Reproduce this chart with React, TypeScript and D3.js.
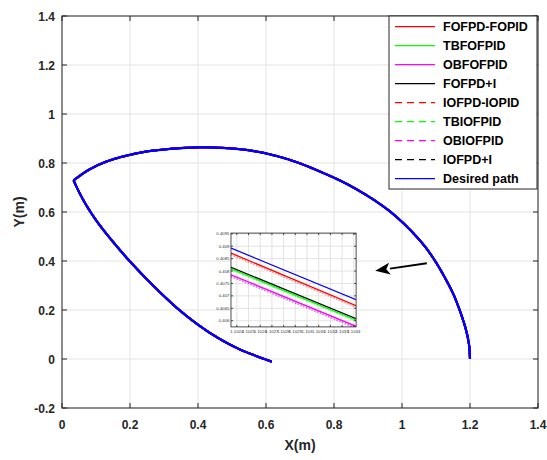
import React from "react";
import * as d3 from "d3";

const W = 547;
const H = 460;

// Main trajectory (all controllers track it, indistinguishable at this scale)
const arcX = [1.2, 1.197, 1.188, 1.172, 1.151, 1.125, 1.102, 1.07, 1.043, 1.005, 0.965, 0.92, 0.867, 0.82, 0.769, 0.695, 0.63, 0.563, 0.48, 0.41, 0.32, 0.229, 0.131, 0.08, 0.034];
const arcY = [0.0, 0.06, 0.12, 0.19, 0.265, 0.335, 0.39, 0.455, 0.499, 0.553, 0.602, 0.647, 0.692, 0.727, 0.759, 0.801, 0.829, 0.849, 0.861, 0.864, 0.858, 0.842, 0.806, 0.773, 0.729];
const retX = [0.034, 0.05, 0.07, 0.1, 0.14, 0.2, 0.27, 0.34, 0.4, 0.46, 0.52, 0.57, 0.617];
const retY = [0.729, 0.682, 0.631, 0.567, 0.495, 0.398, 0.297, 0.206, 0.14, 0.085, 0.041, 0.013, -0.011];

const xTicks = [0, 0.2, 0.4, 0.6, 0.8, 1, 1.2, 1.4];
const yTicks = [-0.2, 0, 0.2, 0.4, 0.6, 0.8, 1, 1.2, 1.4];

const seriesNames = ["FOFPD-FOPID", "TBFOFPID", "OBFOFPID", "FOFPD+I", "IOFPD-IOPID", "TBIOFPID", "OBIOFPID", "IOFPD+I", "Desired path"];
const seriesColors = ["#ff0000", "#00ff00", "#ff00ff", "#000000", "#ff0000", "#00ff00", "#ff00ff", "#000000", "#0000ff"];
const seriesDashed = [false, false, false, false, true, true, true, true, false];

// Inset (zoomed) data
const insetX = [1.10235, 1.10342];
const insetXTicks = [1.1024, 1.1025, 1.1026, 1.1027, 1.1028, 1.1029, 1.103, 1.1031, 1.1032, 1.1033, 1.1034];
const insetXLabels = ["1.1024", "1.1025", "1.1026", "1.1027", "1.1028", "1.1029", "1.103", "1.1031", "1.1032", "1.1033", "1.1034"];
const insetYTicks = [0.406, 0.4065, 0.407, 0.4075, 0.408, 0.4085, 0.409, 0.4095];
const insetYLabels = ["0.406", "0.4065", "0.407", "0.4075", "0.408", "0.4085", "0.409", "0.4095"];
const insetYDomain = [0.40575, 0.40953];
// y at the two ends for each series (order: same as seriesNames)
const insetYStart = [0.408724, 0.40809, 0.407851, 0.408148, 0.40866, 0.40805, 0.40779, 0.40778, 0.408925];
const insetYEnd = [0.406604, 0.40602, 0.405775, 0.406081, 0.40654, 0.40598, 0.40571, 0.40570, 0.406845];
// Inset placement in main-axis coordinates
const insetBoxX = [0.497, 0.865];
const insetBoxY = [0.131, 0.514];

// Arrow annotation (main-axis coordinates)
const arrowFrom = [1.073, 0.391];
const arrowTo = [0.921, 0.36];

export default function App() {
  const left = 62, right = 538, top = 16, bottom = 408;
  const x = d3.scaleLinear().domain([0, 1.4]).range([left, right]);
  const y = d3.scaleLinear().domain([-0.2, 1.4]).range([bottom, top]);

  const arcPts: [number, number][] = arcX.map((v, i) => [v, arcY[i]]);
  const retPts: [number, number][] = retX.map((v, i) => [v, retY[i]]);
  const line = d3.line<[number, number]>().x(d => x(d[0])).y(d => y(d[1])).curve(d3.curveCatmullRom.alpha(0.5));
  const arcD = line(arcPts) || "";
  const retD = line(retPts) || "";

  // inset scales
  const ix0 = x(insetBoxX[0]), ix1 = x(insetBoxX[1]);
  const iy0 = y(insetBoxY[1]), iy1 = y(insetBoxY[0]);
  const ix = d3.scaleLinear().domain(insetX).range([ix0, ix1]);
  const iy = d3.scaleLinear().domain(insetYDomain).range([iy1, iy0]);

  // arrow
  const ax1 = x(arrowFrom[0]), ay1 = y(arrowFrom[1]);
  const ax2 = x(arrowTo[0]), ay2 = y(arrowTo[1]);
  const ang = Math.atan2(ay2 - ay1, ax2 - ax1);
  const hl = 15, hw = 6;
  const bx = ax2 - hl * Math.cos(ang), by = ay2 - hl * Math.sin(ang);
  const px = -Math.sin(ang), py = Math.cos(ang);
  const head = `M${ax2},${ay2}L${bx + hw * px},${by + hw * py}L${bx + hl * 0.25 * Math.cos(ang)},${by + hl * 0.25 * Math.sin(ang)}L${bx - hw * px},${by - hw * py}Z`;

  const font = "'Liberation Sans', Arial, Helvetica, sans-serif";
  const drawOrder = [3, 7, 1, 5, 2, 6, 0, 4, 8];

  // legend
  const lgX = 389, lgY = 16, lgW = 148, lgH = 173;
  const rowH = 19.0;

  return (
    <svg width={W} height={H} style={{ position: "absolute", left: 0, top: 0, background: "#fff" }} fontFamily={font}>
      <rect x={0} y={0} width={W} height={H} fill="#fff" />
      {/* grid */}
      {xTicks.map((t, i) => (
        <line key={"gx" + i} x1={x(t)} x2={x(t)} y1={top} y2={bottom} stroke="#e3e3e3" strokeWidth={1} />
      ))}
      {yTicks.map((t, i) => (
        <line key={"gy" + i} x1={left} x2={right} y1={y(t)} y2={y(t)} stroke="#e3e3e3" strokeWidth={1} />
      ))}

      {/* main paths */}
      {drawOrder.map(k => (
        <g key={"s" + k} fill="none" stroke={seriesColors[k]} strokeWidth={2} strokeDasharray={seriesDashed[k] ? "6,4" : undefined}>
          <path d={arcD} />
          <path d={retD} />
        </g>
      ))}
      <g fill="none" stroke="#0000ff" strokeWidth={2.3}>
        <path d={arcD} />
        <path d={retD} />
      </g>

      {/* inset */}
      <g>
        <rect x={ix0} y={iy0} width={ix1 - ix0} height={iy1 - iy0} fill="#fff" />
        {insetXTicks.map((t, i) => (
          <line key={"igx" + i} x1={ix(t)} x2={ix(t)} y1={iy0} y2={iy1} stroke="#dcdcdc" strokeWidth={0.8} />
        ))}
        {insetYTicks.map((t, i) => (
          <line key={"igy" + i} x1={ix0} x2={ix1} y1={iy(t)} y2={iy(t)} stroke="#dcdcdc" strokeWidth={0.8} />
        ))}
        <defs>
          <clipPath id="insetClip">
            <rect x={ix0} y={iy0} width={ix1 - ix0} height={iy1 - iy0} />
          </clipPath>
        </defs>
        <g clipPath="url(#insetClip)">
          {drawOrder.map(k => (
            <line key={"il" + k}
              x1={ix(insetX[0])} y1={iy(insetYStart[k])} x2={ix(insetX[1])} y2={iy(insetYEnd[k])}
              stroke={seriesDashed[k] ? (k === 7 ? "#888" : seriesColors[k]) : seriesColors[k]}
              strokeOpacity={seriesDashed[k] ? 0.45 : 1}
              strokeWidth={seriesDashed[k] ? 1.6 : 1.3}
              strokeDasharray={seriesDashed[k] ? "1.5,1.5" : undefined} />
          ))}
        </g>
        <rect x={ix0} y={iy0} width={ix1 - ix0} height={iy1 - iy0} fill="none" stroke="#222" strokeWidth={0.8} />
        {insetXTicks.map((t, i) => (
          <g key={"itx" + i}>
            <line x1={ix(t)} x2={ix(t)} y1={iy1} y2={iy1 - 2} stroke="#222" strokeWidth={0.8} />
            <line x1={ix(t)} x2={ix(t)} y1={iy0} y2={iy0 + 2} stroke="#222" strokeWidth={0.8} />
            <text x={ix(t)} y={iy1 + 6.5} fontSize={4.3} textAnchor="middle" fill="#333">{insetXLabels[i]}</text>
          </g>
        ))}
        {insetYTicks.map((t, i) => (
          <g key={"ity" + i}>
            <line x1={ix0} x2={ix0 + 2} y1={iy(t)} y2={iy(t)} stroke="#222" strokeWidth={0.8} />
            <line x1={ix1} x2={ix1 - 2} y1={iy(t)} y2={iy(t)} stroke="#222" strokeWidth={0.8} />
            <text x={ix0 - 1.5} y={iy(t) + 1.5} fontSize={4.3} textAnchor="end" fill="#333">{insetYLabels[i]}</text>
          </g>
        ))}
      </g>

      {/* arrow */}
      <line x1={ax1} y1={ay1} x2={bx} y2={by} stroke="#000" strokeWidth={2} />
      <path d={head} fill="#000" />

      {/* axes box */}
      <rect x={left} y={top} width={right - left} height={bottom - top} fill="none" stroke="#262626" strokeWidth={1} />
      {xTicks.map((t, i) => (
        <g key={"xt" + i}>
          <line x1={x(t)} x2={x(t)} y1={bottom} y2={bottom - 5} stroke="#262626" />
          <line x1={x(t)} x2={x(t)} y1={top} y2={top + 5} stroke="#262626" />
          <text x={x(t)} y={bottom + 21} textAnchor="middle" fontSize={12} fontWeight="bold" fill="#262626">{String(t)}</text>
        </g>
      ))}
      {yTicks.map((t, i) => (
        <g key={"yt" + i}>
          <line x1={left} x2={left + 5} y1={y(t)} y2={y(t)} stroke="#262626" />
          <line x1={right} x2={right - 5} y1={y(t)} y2={y(t)} stroke="#262626" />
          <text x={left - 7} y={y(t) + 4.5} textAnchor="end" fontSize={12} fontWeight="bold" fill="#262626">{String(t)}</text>
        </g>
      ))}
      <text x={(left + right) / 2} y={450} textAnchor="middle" fontSize={14} fontWeight="bold" fill="#262626">X(m)</text>
      <text transform={`translate(24,${(top + bottom) / 2}) rotate(-90)`} textAnchor="middle" fontSize={14} fontWeight="bold" fill="#262626">Y(m)</text>

      {/* legend */}
      <rect x={lgX} y={lgY} width={lgW} height={lgH} fill="#fff" stroke="#262626" strokeWidth={1} />
      {seriesNames.map((n, i) => {
        const cy = lgY + 10.7 + i * rowH;
        return (
          <g key={"lg" + i}>
            <line x1={395} x2={435} y1={cy} y2={cy} stroke={seriesColors[i]} strokeWidth={1.3} strokeDasharray={seriesDashed[i] ? "7,5" : undefined} />
            <text x={443} y={cy + 4.5} fontSize={12.5} fontWeight="bold" fill="#000">{n}</text>
          </g>
        );
      })}
    </svg>
  );
}
